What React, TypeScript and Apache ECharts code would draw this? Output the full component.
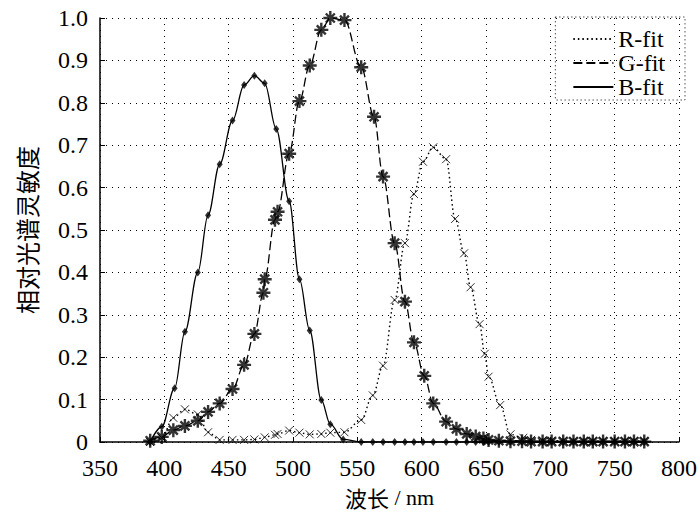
import React, { useEffect, useRef } from "react";
import * as echarts from "echarts";

// Wavelengths (nm) and relative spectral sensitivities
const rWl = [389, 398, 407, 416, 426, 434, 443, 453, 462, 470, 478, 486, 488, 497, 505, 513, 522, 529, 540, 553, 562, 570, 579, 587, 594, 601, 609, 619, 626, 633, 638, 645, 649, 652, 661, 669, 679, 685, 694, 701, 710, 718, 726, 733, 741, 750, 758, 765, 773];
const rVal = [0, 0.01, 0.057, 0.077, 0.065, 0.023, 0.005, 0.005, 0.005, 0.006, 0.011, 0.017, 0.019, 0.027, 0.022, 0.018, 0.019, 0.022, 0.023, 0.052, 0.11, 0.18, 0.335, 0.469, 0.585, 0.661, 0.695, 0.667, 0.526, 0.445, 0.365, 0.278, 0.208, 0.154, 0.087, 0.018, 0.01, 0.005, 0.004, 0.003, 0.003, 0.002, 0.002, 0.002, 0.002, 0.002, 0.002, 0.002, 0.002];

const gWl = [389, 398, 407, 416, 426, 434, 443, 453, 462, 470, 477, 478, 486, 488, 497, 505, 513, 522, 529, 540, 553, 563, 570, 579, 587, 594, 602, 609, 619, 627, 635, 642, 648, 652, 660, 669, 678, 685, 694, 701, 710, 718, 726, 733, 741, 750, 758, 765, 773];
const gVal = [0.003, 0.012, 0.028, 0.038, 0.05, 0.071, 0.091, 0.125, 0.182, 0.255, 0.352, 0.384, 0.524, 0.543, 0.68, 0.804, 0.888, 0.972, 1.0, 0.995, 0.884, 0.767, 0.626, 0.469, 0.331, 0.235, 0.156, 0.091, 0.048, 0.031, 0.019, 0.013, 0.008, 0.005, 0.003, 0.002, 0.002, 0.001, 0.001, 0.001, 0.001, 0.001, 0.001, 0.001, 0.001, 0.001, 0.001, 0.001, 0.001];

const bWl = [389, 398, 408, 416, 426, 434, 443, 453, 462, 470, 478, 487, 497, 505, 513, 522, 529, 539, 553, 562, 570, 579, 587, 594, 601, 609, 619, 627, 635, 642, 648, 652, 660, 669, 678, 685, 694, 701, 710, 718, 726, 733, 741, 750, 758, 765, 773];
const bVal = [0, 0.036, 0.127, 0.26, 0.4, 0.535, 0.655, 0.758, 0.842, 0.864, 0.846, 0.738, 0.568, 0.384, 0.263, 0.099, 0.042, 0.006, 0, 0, 0, 0, 0, 0, 0, 0, 0, 0, 0, 0, 0, 0, 0, 0, 0, 0, 0, 0, 0, 0, 0, 0, 0, 0, 0, 0, 0];

const seriesNames = ["R-fit", "G-fit", "B-fit"];
const xTicks = { min: 350, max: 800, step: 50 };
const yTicks = { min: 0, max: 1, step: 0.1 };

const pairs = (xs: number[], ys: number[]) => xs.map((x, i) => [x, ys[i]]);

const crossPath = "path://M0 0L10 10M10 0L0 10";
const starPath = "path://M5 0L5 10M0 5L10 5M1.8 1.8L8.2 8.2M8.2 1.8L1.8 8.2";

const serif = "Liberation Serif";

export default function App() {
  const ref = useRef<HTMLDivElement>(null);
  useEffect(() => {
    if (!ref.current) return;
    const chart = echarts.init(ref.current, undefined, { renderer: "svg" });
    const lineCommon = {
      type: "line" as const,
      smooth: 0.35,
      smoothMonotone: "x" as const,
      symbol: "none",
      z: 2,
    };
    const richT = { t: { color: "#000", fontSize: 24, fontFamily: serif } };
    chart.setOption({
      animation: false,
      backgroundColor: "#fff",
      textStyle: { fontFamily: serif, color: "#000" },
      grid: { left: 100, right: 15, top: 18, bottom: 72, containLabel: false },
      legend: {
        data: seriesNames,
        orient: "vertical",
        right: 15,
        top: 17,
        itemWidth: 40,
        itemHeight: 12,
        itemGap: 0,
        selectedMode: false,
        borderColor: "#000",
        borderWidth: 1,
        borderType: [1, 3],
        padding: [10, 20, 1, 17],
        itemStyle: { opacity: 0 },
        textStyle: { fontSize: 24, fontFamily: serif, color: "#000" },
      },
      xAxis: {
        type: "value",
        min: xTicks.min,
        max: xTicks.max,
        interval: xTicks.step,
        axisLine: { lineStyle: { color: "#000", width: 1.5 } },
        axisTick: { inside: true, length: 5, lineStyle: { color: "#000" } },
        axisLabel: {
          color: "#000",
          fontSize: 24,
          fontFamily: serif,
          margin: 14,
          formatter: (v: number) => "{t|" + v + "}",
          rich: richT,
        },
        splitLine: { show: true, lineStyle: { color: "#000", type: [1, 5], width: 1 } },
        name: "{c|波长} {t|/ nm}",
        nameLocation: "middle",
        nameGap: 44,
        nameTextStyle: {
          fontSize: 22,
          color: "#000",
          rich: {
            c: { fontSize: 22, fontFamily: "Noto Sans CJK SC", color: "#000" },
            t: { fontSize: 22, fontFamily: serif, color: "#000" },
          },
        },
      },
      yAxis: {
        type: "value",
        min: yTicks.min,
        max: yTicks.max,
        interval: yTicks.step,
        axisLine: { show: true, lineStyle: { color: "#000", width: 1.5 } },
        axisTick: { show: true, inside: true, length: 5, lineStyle: { color: "#000" } },
        axisLabel: {
          color: "#000",
          fontSize: 24,
          fontFamily: serif,
          margin: 12,
          formatter: (v: number) => "{t|" + (v === 0 ? "0" : v.toFixed(1)) + "}",
          rich: richT,
        },
        splitLine: { show: true, lineStyle: { color: "#000", type: [1, 5], width: 1 } },
        name: "相对光谱灵敏度",
        nameLocation: "middle",
        nameGap: 62,
        nameTextStyle: { fontSize: 24, fontFamily: "Noto Sans CJK SC", color: "#000" },
      },
      series: [
        {
          ...lineCommon,
          name: "R-fit",
          data: pairs(rWl, rVal),
          lineStyle: { color: "#000", width: 1.4, type: [1.5, 3] },
          itemStyle: { color: "#000" },
        },
        {
          ...lineCommon,
          name: "G-fit",
          data: pairs(gWl, gVal),
          lineStyle: { color: "#000", width: 1.3, type: [9, 4] },
          itemStyle: { color: "#000" },
        },
        {
          ...lineCommon,
          name: "B-fit",
          data: pairs(bWl, bVal),
          lineStyle: { color: "#000", width: 1.3, type: "solid" },
          itemStyle: { color: "#000" },
        },
        {
          type: "scatter",
          name: "R-data",
          data: pairs(rWl, rVal),
          symbol: crossPath,
          symbolSize: 8,
          itemStyle: { color: "rgba(0,0,0,0)", borderColor: "#000", borderWidth: 1 },
          z: 3,
        },
        {
          type: "scatter",
          name: "G-data",
          data: pairs(gWl, gVal),
          symbol: starPath,
          symbolSize: 14,
          itemStyle: { color: "#000", borderColor: "#000", borderWidth: 2.4 },
          z: 4,
        },
        {
          type: "scatter",
          name: "B-data",
          data: pairs(bWl, bVal),
          symbol: "diamond",
          symbolSize: [6, 8],
          itemStyle: { color: "#000" },
          z: 5,
        },
      ],
    });
    return () => chart.dispose();
  }, []);
  return (
    <div
      ref={ref}
      style={{ position: "absolute", left: 0, top: 0, width: 700, height: 514, background: "#fff" }}
    />
  );
}
